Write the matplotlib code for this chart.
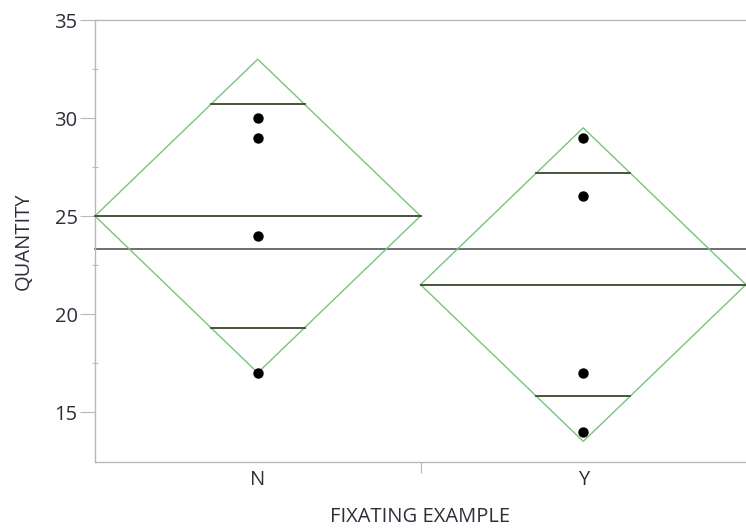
import matplotlib
matplotlib.use("Agg")
import matplotlib.pyplot as plt
import numpy as np

plt.rcParams['font.family'] = ['Open Sans', 'DejaVu Sans']

# values
groups = ['N', 'Y']
points_n = [30, 29, 24, 17]
points_y = [29, 26, 17, 14]
means = [25.0, 21.5]
ci_low = [17.0, 13.5]
ci_high = [33.0, 29.5]
overlap_low = [19.3, 15.8]
overlap_high = [30.7, 27.2]
grand_mean = 23.3

diamond_color = '#7cc27c'
line_color = '#46543f'
spine_color = '#b8b8b8'
text_color = '#2e2e38'

fig = plt.figure(figsize=(7.46, 5.31), dpi=100)
ax = fig.add_axes([95 / 746, (531 - 462) / 531, 651 / 746, 442 / 531])

for i, pts in enumerate([points_n, points_y]):
    left, right, mid = i, i + 1, i + 0.5
    half = ci_high[i] - means[i]
    ax.plot([left, mid, right, mid, left],
            [means[i], ci_high[i], means[i], ci_low[i], means[i]],
            color=diamond_color, lw=1.0, zorder=2)
    ax.plot([left, right], [means[i], means[i]], color=line_color, lw=1.4, zorder=3)
    for h in (overlap_low[i], overlap_high[i]):
        w = 0.5 * (1 - abs(h - means[i]) / half)
        ax.plot([mid - w, mid + w], [h, h], color=line_color, lw=1.4, zorder=3)
    ax.scatter([mid] * len(pts), pts, s=42, color='black', zorder=4)

ax.axhline(grand_mean, color='#626262', lw=1.3, zorder=1)

ax.set_xlim(0, 2)
ax.set_ylim(12.45, 35)

ax.set_yticks([15, 20, 25, 30, 35])
ax.set_yticks([17.5, 22.5, 27.5, 32.5], minor=True)
ax.set_xticks([1])
ax.set_xticklabels([''])
ax.set_xticks([0.5, 1.5], minor=True)
ax.set_xticklabels(groups, minor=True)

ax.tick_params(axis='y', which='major', length=11, width=0.8, color=spine_color,
               labelsize=14.5, labelcolor=text_color, pad=1.5)
ax.tick_params(axis='y', which='minor', length=4, width=0.8, color=spine_color,
               direction='inout')
ax.tick_params(axis='x', which='major', length=8, width=0.8, color=spine_color)
ax.tick_params(axis='x', which='minor', length=0, labelsize=14.5,
               labelcolor=text_color, pad=6)

for s in ['left', 'bottom', 'top']:
    ax.spines[s].set_color(spine_color)
    ax.spines[s].set_linewidth(1.0)
ax.spines['right'].set_visible(False)

ax.set_ylabel('QUANTITY', fontsize=14.5, color=text_color, labelpad=15)
ax.set_xlabel('FIXATING EXAMPLE', fontsize=14.5, color=text_color, labelpad=12)

for line in ax.lines:
    line.set_clip_on(False)

fig.savefig('out.png', dpi=100)
